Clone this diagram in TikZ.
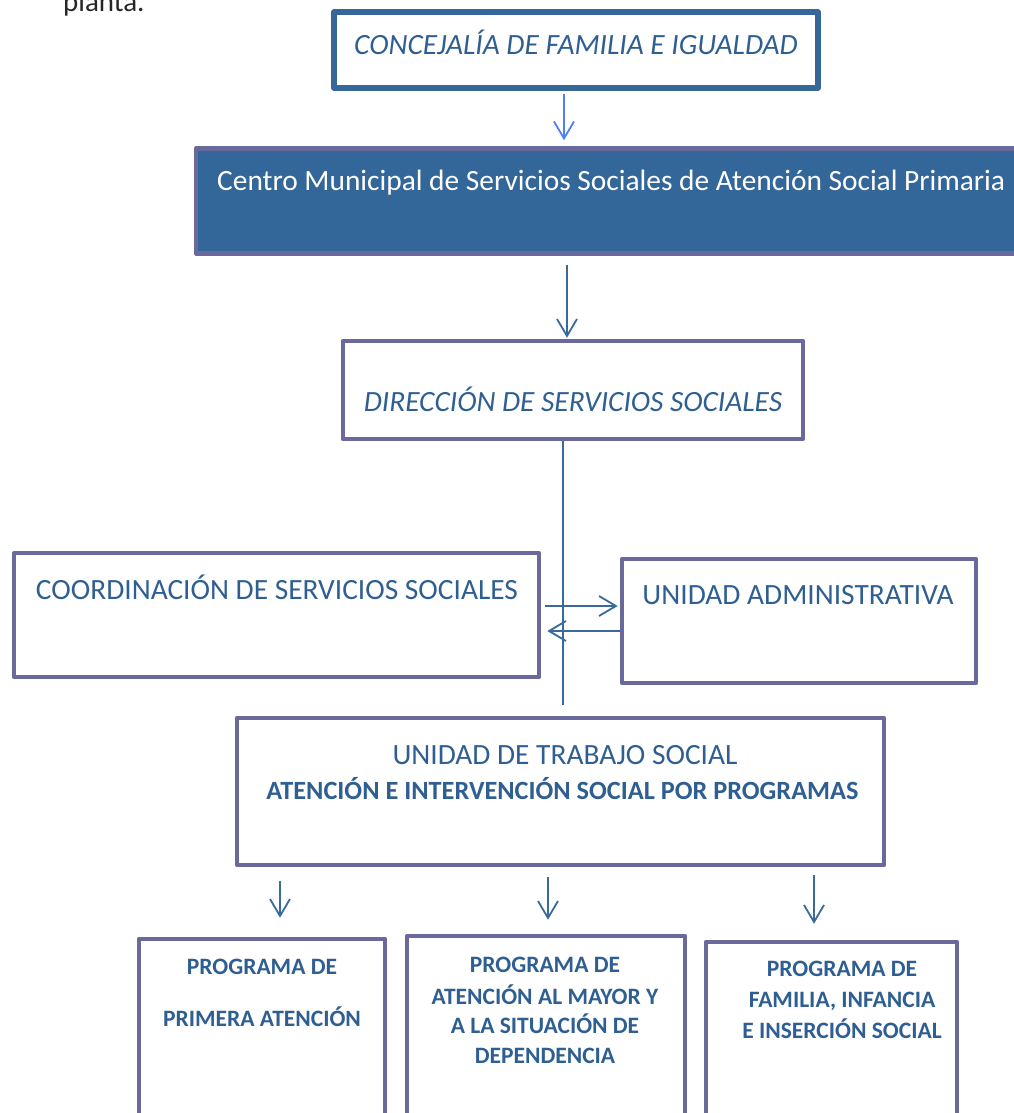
\documentclass[tikz,border=0pt]{standalone}
\usepackage{fontspec}
\setmainfont{Carlito}
\usetikzlibrary{arrows.meta,calc}
\definecolor{txtblue}{HTML}{2F5F92}
\definecolor{bordblue}{HTML}{376699}
\definecolor{bordpurple}{HTML}{69699E}
\definecolor{fillblue}{HTML}{336699}
\definecolor{arrbright}{HTML}{4F7FF5}
\definecolor{arrblue}{HTML}{3A6A9C}
\begin{document}
\begin{tikzpicture}[x=1pt,y=-1pt,
  box/.style={draw=bordpurple, line width=4.5pt, rectangle, inner sep=0pt, line join=round},
  topbox/.style={box, draw=bordblue, line width=5.5pt},
  lbl/.style={text=txtblue, inner sep=0pt, anchor=base, font=\fontsize{29.4}{35}\selectfont},
  blbl/.style={text=txtblue, inner sep=0pt, anchor=base, font=\fontsize{23.5}{28}\selectfont\bfseries},
  arr/.style={draw=arrblue, line width=1.8pt, -{Straight Barb[length=17pt,width=20pt,line width=1.8pt]}},
  arrb/.style={arr, draw=arrbright}
]
\useasboundingbox (0,0) rectangle (1014,1113);
\clip (0,0) rectangle (1014,1113);

% partial text at top
\node[inner sep=0pt, anchor=base west, text=black!85, font=\fontsize{29}{35}\selectfont] (planta) at (63,12) {planta.};

% boxes
\node[topbox, minimum width=484pt, minimum height=76pt] (conc) at (576,50) {};
\node[box, fill=fillblue, minimum width=840pt, minimum height=105pt] (centro) at (616,201) {};
\node[box, minimum width=460pt, minimum height=98pt] (dir) at (573,390) {};
\node[box, minimum width=525pt, minimum height=124pt] (coord) at (276.5,615) {};
\node[box, minimum width=354pt, minimum height=124pt] (uadm) at (799,621) {};
\node[box, minimum width=647pt, minimum height=147pt] (uts) at (560.5,791.5) {};
\node[box, minimum width=246pt, minimum height=220pt] (p1) at (262,1049) {};
\node[box, minimum width=278pt, minimum height=220pt] (p2) at (546,1046) {};
\node[box, minimum width=251pt, minimum height=220pt] (p3) at (831.5,1052) {};

% texts
\node[lbl] (concT) at (576,55) {\itshape CONCEJALÍA DE FAMILIA E IGUALDAD};
\node[lbl, text=white, anchor=base west] (centroT) at (217,190) {Centro Municipal de Servicios Sociales de Atención Social Primaria};
\node[lbl] (dirT) at (573,411) {\itshape DIRECCIÓN DE SERVICIOS SOCIALES};
\node[lbl] (coordT) at (277,599) {COORDINACIÓN DE SERVICIOS SOCIALES};
\node[lbl] (uadmT) at (798,604) {UNIDAD ADMINISTRATIVA};
\node[lbl] (utsT1) at (565,764) {UNIDAD DE TRABAJO SOCIAL};
\node[lbl, font=\fontsize{26.3}{30}\selectfont\bfseries] (utsT2) at (562.5,799) {ATENCIÓN E INTERVENCIÓN SOCIAL POR PROGRAMAS};

\node[blbl] (p1a) at (262,974) {PROGRAMA DE};
\node[blbl] (p1b) at (262,1026) {PRIMERA ATENCIÓN};

\node[blbl] (p2a) at (545,972) {PROGRAMA DE};
\node[blbl] (p2b) at (545,1004) {ATENCIÓN AL MAYOR Y};
\node[blbl] (p2c) at (545,1033) {A LA SITUACIÓN DE};
\node[blbl] (p2d) at (545,1063) {DEPENDENCIA};

\node[blbl] (p3a) at (842,976) {PROGRAMA DE};
\node[blbl] (p3b) at (842,1007) {FAMILIA, INFANCIA};
\node[blbl] (p3c) at (842,1038) {E INSERCIÓN SOCIAL};

% connector x positions
\coordinate (xa) at (564,0);
\coordinate (xb) at (567,0);
\coordinate (xv) at (563,0);
\coordinate (y1) at (0,606);
\coordinate (y2) at (0,631);
\coordinate (xp1) at (280,0);
\coordinate (xp2) at (548,0);
\coordinate (xp3) at (814,0);

% connectors
\draw[arrb, line width=1.6pt, shorten <=3pt, shorten >=6pt] (conc.south -| xa) -- (centro.north -| xa);
\draw[arr, shorten <=9pt, shorten >=1pt] (centro.south -| xb) -- (dir.north -| xb);
\draw[draw=arrblue, line width=2.4pt, shorten >=11pt] (dir.south -| xv) -- (uts.north -| xv);
\draw[arr, shorten <=4pt, shorten >=2pt] (coord.east |- y1) -- (uadm.west |- y1);
\draw[arr, shorten <=0pt, shorten >=6pt] (uadm.west |- y2) -- (coord.east |- y2);
\draw[arr, shorten <=14pt, shorten >=19pt] (uts.south -| xp1) -- (p1.north -| xp1);
\draw[arr, shorten <=10pt, shorten >=14pt] (uts.south -| xp2) -- (p2.north -| xp2);
\draw[arr, shorten <=8pt, shorten >=16pt] (uts.south -| xp3) -- (p3.north -| xp3);
\end{tikzpicture}
\end{document}
